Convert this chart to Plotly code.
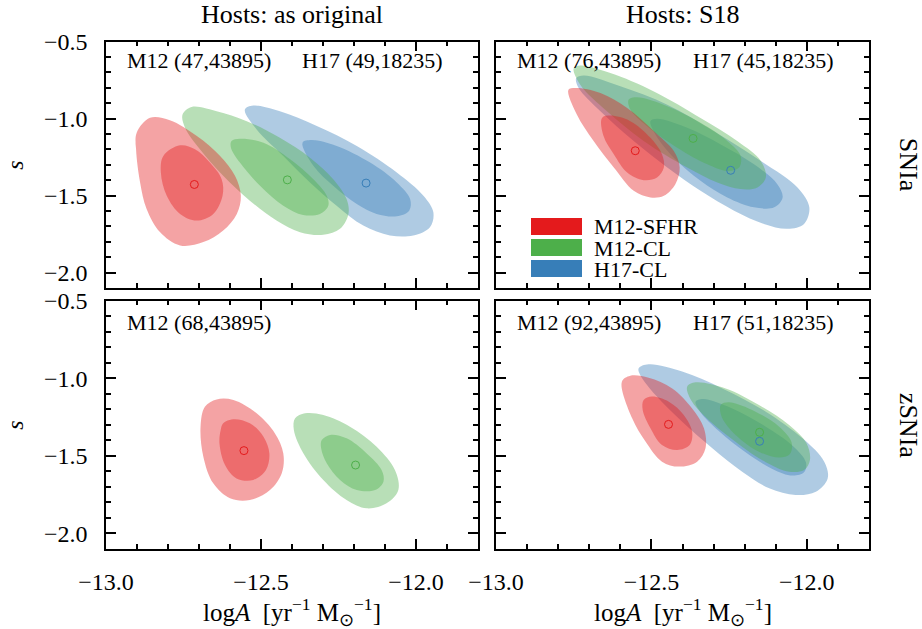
import plotly.graph_objects as go

# ---------------- data ----------------
series_names = ["M12-SFHR", "M12-CL", "H17-CL"]
series_colors = ["#e41a1c", "#4daf4a", "#377eb8"]
series_fills = ["rgba(228,26,28,0.4)", "rgba(77,175,74,0.4)", "rgba(55,126,184,0.4)"]

col_titles = ["Hosts: as original", "Hosts: S18"]
row_titles = ["SNIa", "zSNIa"]
x_ticks = [-13.0, -12.5, -12.0]
y_ticks = [-2.0, -1.5, -1.0, -0.5]
x_range = [-13.0, -11.8]
y_range = [-2.1, -0.5]

panel_notes = [
    ["M12 (47,43895)", "H17 (49,18235)"],
    ["M12 (76,43895)", "H17 (45,18235)"],
    ["M12 (68,43895)"],
    ["M12 (92,43895)", "H17 (51,18235)"],
]

# ---- Hosts: as original, SNIa ----
o1_sfhr95_x = [-12.858, -12.901, -12.903, -12.890, -12.869, -12.826, -12.761, -12.686, -12.622, -12.578, -12.565, -12.584, -12.632, -12.707, -12.794]
o1_sfhr95_y = [-0.995, -1.092, -1.200, -1.415, -1.587, -1.737, -1.824, -1.802, -1.727, -1.619, -1.501, -1.372, -1.243, -1.114, -1.011]
o1_sfhr68_x = [-12.761, -12.815, -12.823, -12.804, -12.761, -12.708, -12.654, -12.624, -12.627, -12.665, -12.713]
o1_sfhr68_y = [-1.174, -1.243, -1.350, -1.501, -1.619, -1.662, -1.619, -1.501, -1.394, -1.286, -1.200]
o1_cl95_x = [-12.753, -12.724, -12.643, -12.546, -12.439, -12.342, -12.267, -12.224, -12.218, -12.245, -12.299, -12.374, -12.450, -12.536, -12.622, -12.697, -12.745]
o1_cl95_y = [-0.974, -0.925, -0.953, -1.017, -1.125, -1.254, -1.394, -1.523, -1.619, -1.716, -1.755, -1.738, -1.662, -1.533, -1.372, -1.200, -1.060]
o1_cl68_x = [-12.595, -12.568, -12.492, -12.406, -12.331, -12.288, -12.283, -12.310, -12.364, -12.428, -12.503, -12.568, -12.597]
o1_cl68_y = [-1.146, -1.131, -1.157, -1.264, -1.394, -1.501, -1.566, -1.619, -1.626, -1.566, -1.437, -1.286, -1.189]
o1_h17_95_x = [-12.552, -12.525, -12.439, -12.320, -12.191, -12.062, -11.976, -11.944, -11.955, -12.009, -12.084, -12.170, -12.256, -12.342, -12.428, -12.514]
o1_h17_95_y = [-0.942, -0.916, -0.953, -1.049, -1.178, -1.350, -1.501, -1.609, -1.705, -1.759, -1.759, -1.695, -1.566, -1.415, -1.243, -1.071]
o1_h17_68_x = [-12.366, -12.337, -12.256, -12.148, -12.062, -12.019, -12.022, -12.062, -12.127, -12.191, -12.267, -12.331]
o1_h17_68_y = [-1.157, -1.140, -1.178, -1.286, -1.415, -1.523, -1.598, -1.634, -1.619, -1.555, -1.437, -1.307]
o1_best_x = [-12.715, -12.415, -12.161]
o1_best_y = [-1.428, -1.398, -1.419]

# ---- Hosts: S18, SNIa ----
s1_sfhr95_x = [-12.767, -12.745, -12.664, -12.578, -12.492, -12.428, -12.409, -12.423, -12.460, -12.503, -12.557, -12.621, -12.686, -12.740]
s1_sfhr95_y = [-0.813, -0.802, -0.834, -0.931, -1.082, -1.211, -1.318, -1.426, -1.501, -1.512, -1.469, -1.318, -1.146, -0.974]
s1_sfhr68_x = [-12.659, -12.632, -12.568, -12.503, -12.466, -12.460, -12.482, -12.525, -12.578, -12.621, -12.654]
s1_sfhr68_y = [-0.996, -0.981, -1.017, -1.125, -1.232, -1.318, -1.383, -1.400, -1.351, -1.232, -1.114]
s1_cl95_x = [-12.750, -12.729, -12.632, -12.492, -12.342, -12.224, -12.148, -12.132, -12.159, -12.213, -12.288, -12.385, -12.525, -12.643, -12.729]
s1_cl95_y = [-0.673, -0.656, -0.705, -0.824, -0.996, -1.146, -1.275, -1.383, -1.447, -1.458, -1.415, -1.318, -1.146, -0.953, -0.781]
s1_cl68_x = [-12.573, -12.546, -12.449, -12.342, -12.256, -12.213, -12.218, -12.256, -12.320, -12.417, -12.514, -12.568]
s1_cl68_y = [-0.877, -0.862, -0.920, -1.028, -1.146, -1.243, -1.318, -1.340, -1.297, -1.189, -1.050, -0.942]
s1_h17_95_x = [-12.742, -12.718, -12.600, -12.449, -12.299, -12.148, -12.030, -11.992, -12.009, -12.062, -12.138, -12.234, -12.342, -12.449, -12.557, -12.664, -12.734]
s1_h17_95_y = [-0.738, -0.720, -0.791, -0.910, -1.082, -1.275, -1.447, -1.576, -1.684, -1.716, -1.684, -1.598, -1.469, -1.318, -1.146, -0.953, -0.802]
s1_h17_68_x = [-12.503, -12.482, -12.385, -12.277, -12.170, -12.095, -12.078, -12.105, -12.170, -12.256, -12.342, -12.428, -12.487]
s1_h17_68_y = [-1.017, -1.002, -1.060, -1.168, -1.297, -1.426, -1.512, -1.576, -1.576, -1.512, -1.404, -1.254, -1.103]
s1_best_x = [-12.552, -12.366, -12.245]
s1_best_y = [-1.209, -1.129, -1.336]

# ---- Hosts: as original, zSNIa ----
o2_sfhr95_x = [-12.681, -12.643, -12.589, -12.514, -12.455, -12.428, -12.433, -12.471, -12.536, -12.600, -12.654, -12.686, -12.695]
o2_sfhr95_y = [-1.183, -1.136, -1.140, -1.226, -1.355, -1.484, -1.612, -1.720, -1.784, -1.773, -1.677, -1.505, -1.312]
o2_sfhr68_x = [-12.622, -12.589, -12.536, -12.492, -12.473, -12.484, -12.525, -12.579, -12.616, -12.634, -12.630]
o2_sfhr68_y = [-1.290, -1.264, -1.290, -1.376, -1.484, -1.591, -1.655, -1.645, -1.559, -1.419, -1.333]
o2_cl95_x = [-12.390, -12.358, -12.299, -12.213, -12.127, -12.068, -12.057, -12.095, -12.159, -12.224, -12.299, -12.363, -12.394]
o2_cl95_y = [-1.258, -1.226, -1.237, -1.312, -1.441, -1.591, -1.720, -1.806, -1.838, -1.784, -1.655, -1.484, -1.333]
o2_cl68_x = [-12.304, -12.277, -12.224, -12.159, -12.111, -12.105, -12.132, -12.191, -12.245, -12.288, -12.306]
o2_cl68_y = [-1.398, -1.365, -1.387, -1.484, -1.591, -1.666, -1.720, -1.720, -1.655, -1.548, -1.451]
o2_best_x = [-12.555, -12.195]
o2_best_y = [-1.466, -1.559]

# ---- Hosts: S18, zSNIa ----
s2_sfhr95_x = [-12.595, -12.568, -12.509, -12.433, -12.369, -12.331, -12.326, -12.353, -12.412, -12.466, -12.519, -12.562]
s2_sfhr95_y = [-1.022, -0.983, -0.996, -1.065, -1.194, -1.322, -1.451, -1.537, -1.569, -1.537, -1.408, -1.258]
s2_sfhr68_x = [-12.525, -12.498, -12.444, -12.396, -12.369, -12.377, -12.417, -12.466, -12.503, -12.528]
s2_sfhr68_y = [-1.140, -1.118, -1.151, -1.236, -1.344, -1.430, -1.462, -1.430, -1.322, -1.204]
s2_cl95_x = [-12.385, -12.358, -12.261, -12.154, -12.057, -12.001, -11.990, -12.009, -12.057, -12.132, -12.218, -12.304, -12.369]
s2_cl95_y = [-1.054, -1.026, -1.065, -1.172, -1.301, -1.419, -1.526, -1.591, -1.602, -1.541, -1.426, -1.290, -1.151]
s2_cl68_x = [-12.277, -12.251, -12.165, -12.089, -12.049, -12.055, -12.089, -12.154, -12.229, -12.274]
s2_cl68_y = [-1.172, -1.155, -1.215, -1.312, -1.413, -1.490, -1.511, -1.473, -1.365, -1.247]
s2_h17_95_x = [-12.541, -12.509, -12.401, -12.272, -12.132, -12.014, -11.944, -11.933, -11.971, -12.036, -12.121, -12.208, -12.304, -12.401, -12.487, -12.536]
s2_h17_95_y = [-0.936, -0.910, -0.957, -1.065, -1.215, -1.387, -1.537, -1.645, -1.731, -1.752, -1.709, -1.602, -1.451, -1.280, -1.108, -0.979]
s2_h17_68_x = [-12.358, -12.334, -12.240, -12.132, -12.046, -12.003, -12.009, -12.046, -12.111, -12.197, -12.283, -12.342]
s2_h17_68_y = [-1.151, -1.133, -1.194, -1.312, -1.434, -1.541, -1.606, -1.627, -1.584, -1.477, -1.340, -1.219]
s2_best_x = [-12.445, -12.152, -12.152]
s2_best_y = [-1.297, -1.348, -1.406]

# ---------------- figure ----------------
FONT = "Liberation Serif"
fig = go.Figure()

panels = [
    ("", {0: (o1_sfhr95_x, o1_sfhr95_y, o1_sfhr68_x, o1_sfhr68_y),
          1: (o1_cl95_x, o1_cl95_y, o1_cl68_x, o1_cl68_y),
          2: (o1_h17_95_x, o1_h17_95_y, o1_h17_68_x, o1_h17_68_y)},
     [0, 1, 2], o1_best_x, o1_best_y),
    ("2", {0: (s1_sfhr95_x, s1_sfhr95_y, s1_sfhr68_x, s1_sfhr68_y),
           1: (s1_cl95_x, s1_cl95_y, s1_cl68_x, s1_cl68_y),
           2: (s1_h17_95_x, s1_h17_95_y, s1_h17_68_x, s1_h17_68_y)},
     [0, 1, 2], s1_best_x, s1_best_y),
    ("3", {0: (o2_sfhr95_x, o2_sfhr95_y, o2_sfhr68_x, o2_sfhr68_y),
           1: (o2_cl95_x, o2_cl95_y, o2_cl68_x, o2_cl68_y)},
     [0, 1], o2_best_x, o2_best_y),
    ("4", {0: (s2_sfhr95_x, s2_sfhr95_y, s2_sfhr68_x, s2_sfhr68_y),
           1: (s2_cl95_x, s2_cl95_y, s2_cl68_x, s2_cl68_y),
           2: (s2_h17_95_x, s2_h17_95_y, s2_h17_68_x, s2_h17_68_y)},
     [0, 1, 2], s2_best_x, s2_best_y),
]

draw_order = [2, 1, 0]  # H17-CL, M12-CL, M12-SFHR (last on top)


def closed(v):
    return list(v) + list(v[:3])


for suffix, contours, idx, bx, by in panels:
    xa, ya = "x" + suffix, "y" + suffix
    for s in draw_order:
        if s not in contours:
            continue
        ox, oy, ix, iy = contours[s]
        for cx, cy in ((ox, oy), (ix, iy)):
            fig.add_trace(go.Scatter(
                x=closed(cx), y=closed(cy), xaxis=xa, yaxis=ya,
                mode="lines", fill="toself", fillcolor=series_fills[s],
                line=dict(width=0, shape="spline", smoothing=1.0, color=series_fills[s]),
                showlegend=False, hoverinfo="skip", name=series_names[s]))
    for k, s in enumerate(idx):
        fig.add_trace(go.Scatter(
            x=[bx[k]], y=[by[k]], xaxis=xa, yaxis=ya, mode="markers",
            marker=dict(symbol="circle-open", size=8, color=series_colors[s], line=dict(width=1)),
            showlegend=False, name=series_names[s]))

x_dom = [[106 / 922, 478 / 922], [496 / 922, 869 / 922]]
y_dom = [[1 - 288 / 629, 1 - 41.5 / 629], [1 - 549 / 629, 1 - 300.7 / 629]]

tickfont = dict(family=FONT, size=24, color="black")


def xaxis(dom, labels, anchor):
    return dict(domain=dom, range=x_range, tickvals=x_ticks, tickformat=".1f", anchor=anchor,
                automargin=False,
                ticks="inside", ticklen=10, tickwidth=1.5, tickcolor="black",
                mirror="allticks", showline=True, linecolor="black", linewidth=1.5,
                showgrid=False, zeroline=False, showticklabels=labels, tickfont=tickfont,
                ticklabelstandoff=10,
                minor=dict(ticks="inside", ticklen=5, tickwidth=1.5, tickcolor="black",
                           dtick=0.1, tick0=-13.0, showgrid=False))


def yaxis(dom, labels, anchor):
    return dict(domain=dom, range=y_range, tickvals=y_ticks, tickformat=".1f", anchor=anchor,
                automargin=False,
                ticks="inside", ticklen=10, tickwidth=1.5, tickcolor="black",
                mirror="allticks", showline=True, linecolor="black", linewidth=1.5,
                showgrid=False, zeroline=False, showticklabels=labels, tickfont=tickfont,
                ticklabelstandoff=12,
                minor=dict(ticks="inside", ticklen=5, tickwidth=1.5, tickcolor="black",
                           dtick=0.1, tick0=-0.5, showgrid=False))


fig.update_layout(
    template="none",
    width=922, height=629, margin=dict(l=0, r=0, t=0, b=0, autoexpand=False),
    paper_bgcolor="white", plot_bgcolor="white", showlegend=False,
    font=dict(family=FONT, color="black"),
    xaxis=xaxis(x_dom[0], False, "y"), yaxis=yaxis(y_dom[0], True, "x"),
    xaxis2=xaxis(x_dom[1], False, "y2"), yaxis2=yaxis(y_dom[0], False, "x2"),
    xaxis3=xaxis(x_dom[0], True, "y3"), yaxis3=yaxis(y_dom[1], True, "x3"),
    xaxis4=xaxis(x_dom[1], True, "y4"), yaxis4=yaxis(y_dom[1], False, "x4"),
)

ann = []
axis_pairs = [("x", "y"), ("x2", "y2"), ("x3", "y3"), ("x4", "y4")]
for (xa, ya), notes in zip(axis_pairs, panel_notes):
    ypos = 0.921 if ya in ("y", "y2") else 0.911
    for j, t in enumerate(notes):
        ann.append(dict(text=t, xref=xa + " domain", yref=ya + " domain", x=[0.051, 0.5215][j], y=ypos,
                        xanchor="left", yanchor="middle", showarrow=False,
                        font=dict(family=FONT, size=22, color="black")))
for j, t in enumerate(col_titles):
    ann.append(dict(text=t, xref="paper", yref="paper", x=sum(x_dom[j]) / 2, y=1 - 14 / 629,
                    xanchor="center", yanchor="middle", showarrow=False,
                    font=dict(family=FONT, size=26, color="black")))
for i, t in enumerate(row_titles):
    ann.append(dict(text=t, xref="paper", yref="paper", x=908 / 922, y=sum(y_dom[i]) / 2,
                    xanchor="center", yanchor="middle", textangle=90, showarrow=False,
                    font=dict(family=FONT, size=26, color="black")))
for i in range(2):
    ann.append(dict(text="<i>s</i>", xref="paper", yref="paper", x=15 / 922, y=sum(y_dom[i]) / 2,
                    xanchor="center", yanchor="middle", textangle=-90, showarrow=False,
                    font=dict(family=FONT, size=24, color="black")))
for j in range(2):
    ann.append(dict(text="log<i>A</i>  [yr<sup>−1</sup> M<sub>⊙</sub><sup>−1</sup>]",
                    xref="paper", yref="paper", x=sum(x_dom[j]) / 2, y=1 - 612 / 629,
                    xanchor="center", yanchor="middle", showarrow=False,
                    font=dict(family=FONT, size=25, color="black")))

shapes = []
leg_top = [218, 239, 260]
for k in range(3):
    shapes.append(dict(type="rect", xref="paper", yref="paper", x0=531 / 922, x1=582 / 922,
                       y0=1 - (leg_top[k] + 17) / 629, y1=1 - leg_top[k] / 629,
                       fillcolor=series_colors[k], line=dict(width=0)))
    ann.append(dict(text=series_names[k], xref="paper", yref="paper", x=592 / 922,
                    y=1 - (leg_top[k] + 8.5) / 629, xanchor="left", yanchor="middle", showarrow=False,
                    height=20, valign="middle",
                    font=dict(family=FONT, size=22, color="black")))

fig.update_layout(annotations=ann, shapes=shapes)
fig.write_html("out.html")
